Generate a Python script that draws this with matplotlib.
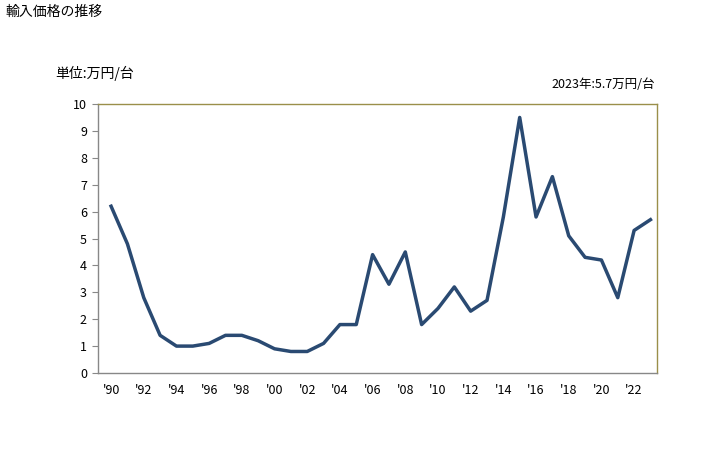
import matplotlib
matplotlib.use("Agg")
import matplotlib.pyplot as plt

plt.rcParams['font.family'] = ['Noto Sans CJK JP', 'DejaVu Sans']

years = list(range(1990, 2024))
values = [6.2, 4.8, 2.8, 1.4, 1.0, 1.0, 1.1, 1.4, 1.4, 1.2,
          0.9, 0.8, 0.8, 1.1, 1.8, 1.8, 4.4, 3.3, 4.5, 1.8,
          2.4, 3.2, 2.3, 2.7, 5.8, 9.5, 5.8, 7.3, 5.1, 4.3,
          4.2, 2.8, 5.3, 5.7]
xtick_years = list(range(1990, 2023, 2))
xtick_labels = ["'" + str(y)[2:] for y in xtick_years]
yticks = list(range(0, 11))

fig = plt.figure(figsize=(7.28, 4.5), dpi=100)
ax = fig.add_axes([98/728, 77/450, (657-98)/728, (373-104)/450])
ax.plot(years, values, color='#2a4a72', linewidth=2.5, solid_joinstyle='round')
ax.set_xlim(1989.2, 2023.4)
ax.set_ylim(0, 10)
ax.set_xticks(xtick_years)
ax.set_xticklabels(xtick_labels, fontsize=9)
ax.set_yticks(yticks)
ax.set_yticklabels([str(v) for v in yticks], fontsize=9)
ax.tick_params(axis='x', length=0, pad=8)
ax.tick_params(axis='y', length=4, direction='out', color='#888888', pad=4)
for s in ['left', 'bottom']:
    ax.spines[s].set_color('#888888')
for s in ['top', 'right']:
    ax.spines[s].set_color('#9a8f4a')
for s in ax.spines.values():
    s.set_linewidth(1.0)

fig.text(5/728, 1 - 12/450, '輸入価格の推移', fontsize=10, va='center', ha='left')
fig.text(55/728, 1 - 73/450, '単位:万円/台', fontsize=10, va='center', ha='left')
fig.text(655/728, 1 - 85/450, '2023年:5.7万円/台', fontsize=9, va='center', ha='right')

fig.savefig('out.png', dpi=100)
